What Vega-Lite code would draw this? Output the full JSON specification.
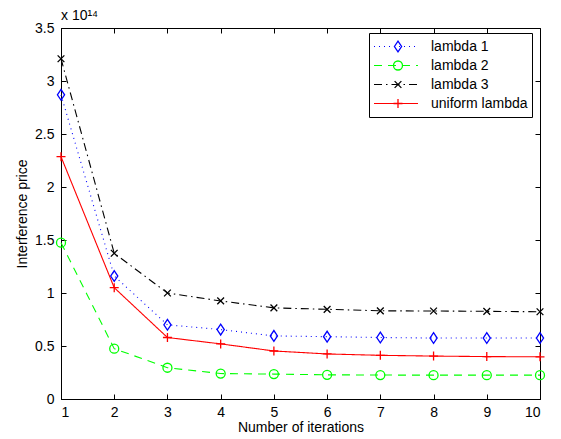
{
  "$schema": "https://vega.github.io/schema/vega-lite/v6.json",
  "autosize": "none",
  "width": 479,
  "height": 371,
  "padding": {"left": 61, "top": 28, "right": 21, "bottom": 40},
  "background": "white",
  "title": {"text": "x 10¹⁴", "anchor": "start", "frame": "group", "offset": 6, "dy": 8, "fontSize": 14, "fontWeight": "normal", "font": "Liberation Sans", "color": "black"},
  "config": {
    "view": {"stroke": "black", "strokeWidth": 1},
    "font": "Liberation Sans",
    "axis": {"grid": false, "domainColor": "black", "tickColor": "black", "labelColor": "black", "titleColor": "black", "labelFont": "Liberation Sans", "titleFont": "Liberation Sans", "labelFontSize": 14, "titleFontSize": 14, "titleFontWeight": "normal", "tickSize": -5}
  },
  "data": {"values": [
    {"iter": 1, "series": "lambda 1", "price": 2.87e14},
    {"iter": 2, "series": "lambda 1", "price": 1.16e14},
    {"iter": 3, "series": "lambda 1", "price": 0.70e14},
    {"iter": 4, "series": "lambda 1", "price": 0.655e14},
    {"iter": 5, "series": "lambda 1", "price": 0.595e14},
    {"iter": 6, "series": "lambda 1", "price": 0.588e14},
    {"iter": 7, "series": "lambda 1", "price": 0.58e14},
    {"iter": 8, "series": "lambda 1", "price": 0.575e14},
    {"iter": 9, "series": "lambda 1", "price": 0.575e14},
    {"iter": 10, "series": "lambda 1", "price": 0.575e14},
    {"iter": 1, "series": "lambda 2", "price": 1.475e14},
    {"iter": 2, "series": "lambda 2", "price": 0.475e14},
    {"iter": 3, "series": "lambda 2", "price": 0.295e14},
    {"iter": 4, "series": "lambda 2", "price": 0.24e14},
    {"iter": 5, "series": "lambda 2", "price": 0.235e14},
    {"iter": 6, "series": "lambda 2", "price": 0.228e14},
    {"iter": 7, "series": "lambda 2", "price": 0.226e14},
    {"iter": 8, "series": "lambda 2", "price": 0.225e14},
    {"iter": 9, "series": "lambda 2", "price": 0.225e14},
    {"iter": 10, "series": "lambda 2", "price": 0.225e14},
    {"iter": 1, "series": "lambda 3", "price": 3.21e14},
    {"iter": 2, "series": "lambda 3", "price": 1.375e14},
    {"iter": 3, "series": "lambda 3", "price": 1.0e14},
    {"iter": 4, "series": "lambda 3", "price": 0.925e14},
    {"iter": 5, "series": "lambda 3", "price": 0.86e14},
    {"iter": 6, "series": "lambda 3", "price": 0.846e14},
    {"iter": 7, "series": "lambda 3", "price": 0.832e14},
    {"iter": 8, "series": "lambda 3", "price": 0.83e14},
    {"iter": 9, "series": "lambda 3", "price": 0.827e14},
    {"iter": 10, "series": "lambda 3", "price": 0.823e14},
    {"iter": 1, "series": "uniform lambda", "price": 2.286e14},
    {"iter": 2, "series": "uniform lambda", "price": 1.05e14},
    {"iter": 3, "series": "uniform lambda", "price": 0.58e14},
    {"iter": 4, "series": "uniform lambda", "price": 0.52e14},
    {"iter": 5, "series": "uniform lambda", "price": 0.453e14},
    {"iter": 6, "series": "uniform lambda", "price": 0.425e14},
    {"iter": 7, "series": "uniform lambda", "price": 0.412e14},
    {"iter": 8, "series": "uniform lambda", "price": 0.405e14},
    {"iter": 9, "series": "uniform lambda", "price": 0.40e14},
    {"iter": 10, "series": "uniform lambda", "price": 0.398e14}
  ]},
  "layer": [
    {
      "mark": {"type": "line", "strokeWidth": 1.1},
      "encoding": {
        "x": {"field": "iter", "type": "quantitative", "title": "Number of iterations", "scale": {"domain": [1, 10], "nice": false, "zero": false}, "axis": {"values": [1,2,3,4,5,6,7,8,9,10], "labelPadding": 11, "titlePadding": 1}},
        "y": {"field": "price", "type": "quantitative", "title": "Interference price", "scale": {"domain": [0, 3.5e14], "nice": false}, "axis": {"values": [0, 0.5e14, 1e14, 1.5e14, 2e14, 2.5e14, 3e14, 3.5e14], "labelExpr": "format(datum.value/1e14, '~g')", "labelPadding": 12, "titlePadding": 5}},
        "stroke": {"field": "series", "type": "nominal", "scale": {"domain": ["lambda 1", "lambda 2", "lambda 3", "uniform lambda"], "range": ["#0000ff", "#00ff00", "#000000", "#ff0000"]},
          "legend": {"orient": "none", "legendX": 308, "legendY": 5, "title": null, "strokeColor": "black", "padding": 4, "labelFontSize": 14, "labelFont": "Liberation Sans", "labelColor": "black", "labelOffset": 12, "symbolSize": 1936, "symbolStrokeWidth": 1.2, "clipHeight": 19, "rowPadding": 0, "cornerRadius": 0}},
        "strokeDash": {"field": "series", "type": "nominal", "scale": {"domain": ["lambda 1", "lambda 2", "lambda 3", "uniform lambda"], "range": [[1, 4], [8, 6], [8, 4, 1.5, 4], [1, 0]]}}
      }
    },
    {
      "mark": {"type": "point", "filled": false, "strokeWidth": 1.3, "size": 81, "opacity": 1},
      "encoding": {
        "x": {"field": "iter", "type": "quantitative", "axis": {"orient": "top", "values": [1,2,3,4,5,6,7,8,9,10], "labels": false, "title": null, "domain": false}},
        "y": {"field": "price", "type": "quantitative", "axis": {"orient": "right", "values": [0, 0.5e14, 1e14, 1.5e14, 2e14, 2.5e14, 3e14, 3.5e14], "labels": false, "title": null, "domain": false}},
        "color": {"field": "series", "type": "nominal", "scale": {"range": ["#0000ff", "#00ff00", "#000000", "#ff0000"]},
          "legend": {"orient": "none", "legendX": 326, "legendY": 5, "title": null, "padding": 4, "labelFontSize": 14, "labelFont": "Liberation Sans", "labelExpr": "''", "labelOffset": 12, "symbolSize": 81, "symbolStrokeWidth": 1.3, "clipHeight": 19, "rowPadding": 0}},
        "shape": {"field": "series", "type": "nominal", "scale": {"range": ["M-0.8,0L0,-1.2L0.8,0L0,1.2Z", "M1,0A1,1 0 1,1 -1,0A1,1 0 1,1 1,0Z", "M-0.75,-0.75L0.75,0.75M-0.75,0.75L0.75,-0.75", "M-1,0L1,0M0,-1L0,1"]}}
      }
    }
  ],
  "resolve": {"axis": {"x": "independent", "y": "independent"}}
}
